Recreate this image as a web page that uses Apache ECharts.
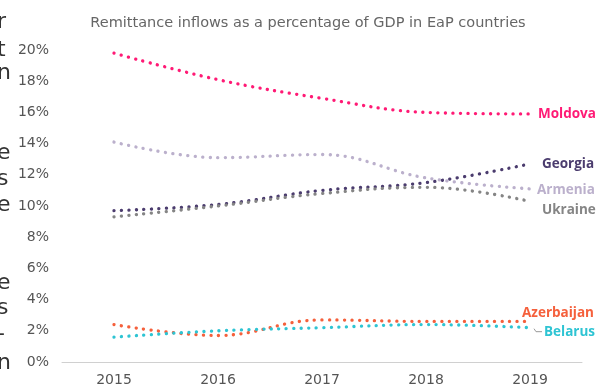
<!DOCTYPE html>
<html>
<head>
<meta charset="utf-8">
<script src="https://cdn.jsdelivr.net/npm/echarts@6/dist/echarts.min.js"></script>
<style>
  html, body { margin: 0; padding: 0; background: #fff; }
  #chart { width: 612px; height: 387px; }
</style>
</head>
<body>
<div id="chart"></div>
<script>
const years = ['2015', '2016', '2017', '2018', '2019'];
const moldova = [19.8, 18.1, 16.9, 16.0, 15.9];
const armenia = [14.1, 13.1, 13.3, 11.8, 11.1];
const georgia = [9.7, 10.1, 11.0, 11.5, 12.7];
const ukraine = [9.3, 10.0, 10.8, 11.2, 10.3];
const azerbaijan = [2.4, 1.7, 2.7, 2.6, 2.6];
const belarus = [1.6, 2.0, 2.2, 2.4, 2.2];

// clipped letters of the article text on the left edge
const sideLetters = ['r', 't', 'n', 'e', 's', 'e', 'e', 's', '-', 'n'];
const sideLetterY = [24, 52, 75, 155, 181, 207, 285, 310, 336, 365];

const chart = echarts.init(document.getElementById('chart'));

const line = (name, data, color, offset) => ({
    name: name,
    type: 'line',
    data: data,
    smooth: 0.4,
    symbol: 'none',
    lineStyle: {
        color: color,
        width: 3.3,
        type: [0.1, 7.4],
        cap: 'round'
    },
    endLabel: {
        show: true,
        formatter: '{a}',
        color: color,
        fontFamily: 'Open Sans',
        fontWeight: 'bold',
        fontSize: 13.5,
        distance: 8,
        offset: offset
    }
});

chart.setOption({
    animation: false,
    title: {
        text: 'Remittance inflows as a percentage of GDP in EaP countries',
        left: 303,
        textAlign: 'center',
        top: 11,
        textStyle: {
            color: '#666',
            fontFamily: 'DejaVu Sans',
            fontWeight: 'normal',
            fontSize: 14.5
        }
    },
    grid: { left: 62, right: 30, top: 50, bottom: 25 },
    xAxis: {
        type: 'category',
        data: years,
        boundaryGap: true,
        axisLine: { lineStyle: { color: '#d0d0d0', width: 1 } },
        axisTick: { show: false },
        axisLabel: { color: '#555', fontFamily: 'DejaVu Sans', fontSize: 14, margin: 11 }
    },
    yAxis: {
        type: 'value',
        min: 0,
        max: 20,
        interval: 2,
        axisLine: { show: false },
        axisTick: { show: false },
        splitLine: { show: false },
        axisLabel: { formatter: '{value}%', color: '#555', fontFamily: 'DejaVu Sans', fontSize: 14, margin: 13 }
    },
    series: [
        line('Moldova', moldova, '#ff1a75', [0, 0]),
        line('Georgia', georgia, '#4b3c6e', [4, 0]),
        line('Armenia', armenia, '#bbb0cc', [-1, 1]),
        line('Ukraine', ukraine, '#858585', [4, 9]),
        line('Azerbaijan', azerbaijan, '#f5603c', [-16, -8]),
        line('Belarus', belarus, '#2ec4d3', [6, 4])
    ],
    graphic: sideLetters.map((ch, i) => ({
        type: 'text',
        left: -3,
        top: sideLetterY[i] - 13,
        style: { text: ch, fill: '#333', fontFamily: 'DejaVu Sans', fontSize: 22 }
    }))
});

// small leader line for the Belarus label
const last = chart.convertToPixel({ seriesIndex: 5 }, [4, belarus[4]]);
chart.setOption({
    graphic: sideLetters.map(() => ({})).concat([{
        type: 'polyline',
        shape: { points: [[last[0] + 4, last[1] + 1], [last[0] + 6, last[1] + 4], [last[0] + 12, last[1] + 4]] },
        style: { stroke: '#999', lineWidth: 1, fill: null }
    }])
});
</script>
</body>
</html>
